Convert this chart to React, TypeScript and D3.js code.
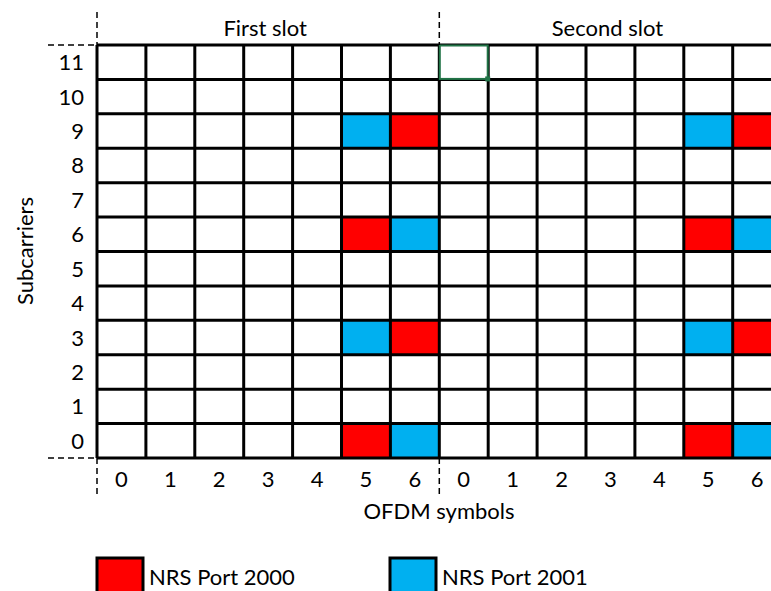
import React, { useEffect, useRef } from 'react';
import * as d3 from 'd3';

// tick labels / categories
const slots = ['First slot', 'Second slot'];
const symbols = ['0', '1', '2', '3', '4', '5', '6'];
const subcarriers = ['0', '1', '2', '3', '4', '5', '6', '7', '8', '9', '10', '11'];

// NRS resource elements in each slot: [symbol, subcarrier]
const port2000 = [[6, 9], [5, 6], [6, 3], [5, 0]];
const port2001 = [[5, 9], [6, 6], [5, 3], [6, 0]];

// cell that is selected in the sheet: [slot, symbol, subcarrier]
const selectedCell = [1, 0, 11];

const legendItems = ['NRS Port 2000', 'NRS Port 2001'];

const RED = '#ff0000';
const BLUE = '#00b0f0';
const FONT = 'Lato, sans-serif';
const FS = '22px';

const App = () => {
  const ref = useRef<SVGSVGElement>(null);

  useEffect(() => {
    const svg = d3.select(ref.current);
    svg.selectAll('*').remove();

    const left = 97;
    const top = 45;
    const colW = 48.9;
    const bottom = 458;

    const cols = d3.range(slots.length * symbols.length);
    const x = d3
      .scaleBand<number>()
      .domain(cols)
      .range([left, left + colW * cols.length])
      .padding(0);

    const y = d3
      .scaleBand<string>()
      .domain(subcarriers.slice().reverse())
      .range([top, bottom])
      .padding(0);

    const g = svg.append('g');

    // coloured cells
    const cells: { col: number; sc: number; color: string }[] = [];
    slots.forEach((_, s) => {
      port2000.forEach(([sym, sc]) => cells.push({ col: s * symbols.length + sym, sc, color: RED }));
      port2001.forEach(([sym, sc]) => cells.push({ col: s * symbols.length + sym, sc, color: BLUE }));
    });

    g.selectAll('.cell')
      .data(cells)
      .enter()
      .append('rect')
      .attr('x', d => x(d.col)!)
      .attr('y', d => y(String(d.sc))!)
      .attr('width', x.bandwidth())
      .attr('height', y.bandwidth())
      .attr('fill', d => d.color);

    // grid lines
    const xr = x.range();
    const vLines = cols.map(c => x(c)!).concat([xr[1]]);
    const hLines = subcarriers.map(s => y(s)!).concat([bottom]);

    g.selectAll('.vline')
      .data(vLines)
      .enter()
      .append('line')
      .attr('x1', d => d)
      .attr('x2', d => d)
      .attr('y1', top)
      .attr('y2', bottom)
      .attr('stroke', '#000')
      .attr('stroke-width', 3);

    g.selectAll('.hline')
      .data(hLines)
      .enter()
      .append('line')
      .attr('x1', left)
      .attr('x2', xr[1])
      .attr('y1', d => d)
      .attr('y2', d => d)
      .attr('stroke', '#000')
      .attr('stroke-width', 3);

    // selected cell (green outline)
    const selX = x(selectedCell[0] * symbols.length + selectedCell[1])!;
    const selY = y(String(selectedCell[2]))!;
    g.append('rect')
      .attr('x', selX + 0.5)
      .attr('y', selY + 0.5)
      .attr('width', x.bandwidth() - 1)
      .attr('height', y.bandwidth() - 1)
      .attr('fill', '#fff')
      .attr('stroke', '#217346')
      .attr('stroke-width', 2);
    g.append('rect')
      .attr('x', selX + x.bandwidth() - 3)
      .attr('y', selY + y.bandwidth() - 3)
      .attr('width', 5)
      .attr('height', 5)
      .attr('fill', '#217346');

    // dashed separators
    const dash = (x1: number, y1: number, x2: number, y2: number) =>
      g.append('line')
        .attr('x1', x1).attr('y1', y1).attr('x2', x2).attr('y2', y2)
        .attr('stroke', '#000')
        .attr('stroke-width', 1.5)
        .attr('stroke-dasharray', '6,4');

    const slotEdge = x(symbols.length)!;
    dash(left, 12, left, top);
    dash(slotEdge, 12, slotEdge, top);
    dash(left, bottom, left, 494);
    dash(slotEdge, bottom, slotEdge, 494);
    dash(48, top, left, top);
    dash(48, bottom, left, bottom);

    const label = (sel: d3.Selection<SVGTextElement, any, any, any>) =>
      sel.style('font-family', FONT).style('font-size', FS).style('fill', '#000');

    // slot titles
    slots.forEach((s, i) => {
      const x0 = x(i * symbols.length)!;
      g.append('text')
        .attr('x', x0 + (colW * symbols.length) / 2 - 3)
        .attr('y', 36)
        .attr('text-anchor', 'middle')
        .call(label)
        .text(s);
    });

    // x tick labels
    g.selectAll('.xtick')
      .data(cols)
      .enter()
      .append('text')
      .attr('x', d => x(d)! + x.bandwidth() / 2)
      .attr('y', 487)
      .attr('text-anchor', 'middle')
      .call(label)
      .text(d => symbols[d % symbols.length]);

    // y tick labels
    g.selectAll('.ytick')
      .data(subcarriers)
      .enter()
      .append('text')
      .attr('x', 84)
      .attr('y', d => y(d)! + y.bandwidth() / 2 + 8)
      .attr('text-anchor', 'end')
      .call(label)
      .text(d => d);

    // axis titles
    g.append('text')
      .attr('x', 439)
      .attr('y', 519)
      .attr('text-anchor', 'middle')
      .call(label)
      .text('OFDM symbols');

    g.append('text')
      .attr('transform', `translate(33,251) rotate(-90)`)
      .attr('text-anchor', 'middle')
      .call(label)
      .text('Subcarriers');

    // legend
    const legend = g.selectAll('.legend')
      .data(legendItems)
      .enter()
      .append('g')
      .attr('transform', (_, i) => `translate(${97 + i * 293},558)`);

    legend.append('rect')
      .attr('x', 0)
      .attr('y', 0)
      .attr('width', 46)
      .attr('height', 40)
      .attr('fill', (_, i) => (i === 0 ? RED : BLUE))
      .attr('stroke', '#000')
      .attr('stroke-width', 3);

    legend.append('text')
      .attr('x', 52)
      .attr('y', 27)
      .call(label)
      .text(d => d);
  }, []);

  return (
    <div style={{ position: 'absolute', left: 0, top: 0, width: 771, height: 591, overflow: 'hidden', background: '#fff' }}>
      <svg ref={ref} width={771} height={591}></svg>
    </div>
  );
};

export default App;
